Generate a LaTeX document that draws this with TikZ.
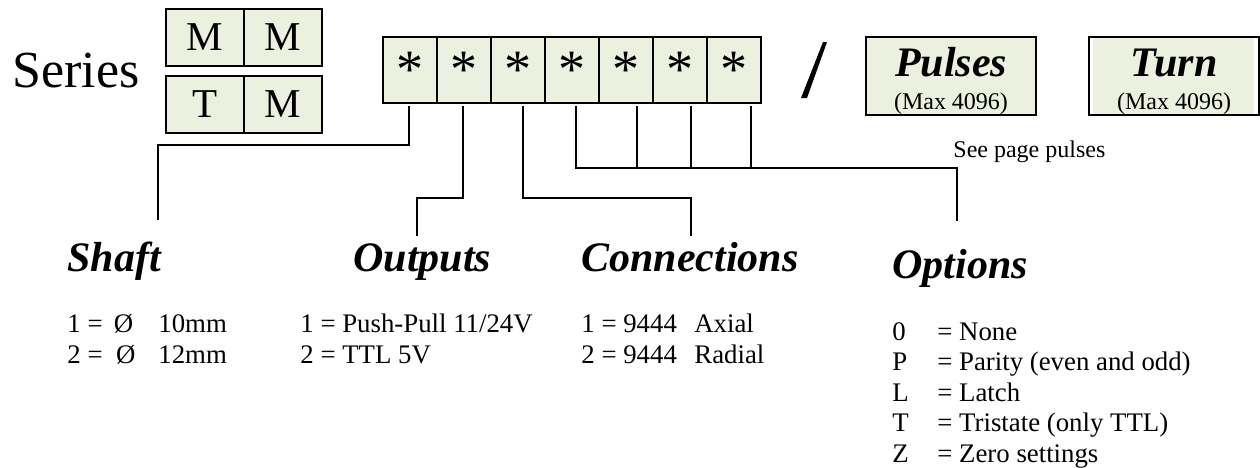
\documentclass[tikz,border=0pt]{standalone}
\usepackage{fontspec}
\setmainfont{Liberation Serif}
\usetikzlibrary{positioning}
\usetikzlibrary{calc}
\definecolor{celda}{RGB}{235,241,222}

\tikzset{
  cell/.style={draw, fill=celda, line width=0.9pt, outer sep=0pt, inner sep=0pt,
    minimum width=27pt, minimum height=33pt, font=\fontsize{27}{31}\selectfont},
  serie/.style={cell, minimum width=39pt, minimum height=28.5pt, font=\fontsize{20.5}{24}\selectfont},
  valbox/.style={draw, line width=0.9pt, outer sep=0pt, inner sep=0pt,
    minimum width=85pt, minimum height=39pt, align=center, font=\fontsize{12}{16.5}\selectfont},
  wire/.style={line width=0.6pt},
  titulo/.style={anchor=base west, inner sep=0pt, font=\fontsize{21}{25}\selectfont\bfseries\itshape},
  lista/.style={anchor=base west, inner sep=0pt, font=\fontsize{13.4}{15.5}\selectfont},
}

\begin{document}
\begin{tikzpicture}[x=0.5pt, y=-0.5pt]
    \useasboundingbox (0,0) rectangle (1260,467);

    % Serie
    \node[anchor=base west, inner sep=0pt, font=\fontsize{26}{30}\selectfont] (serie) at (12,87) {Series};
    \node[serie] (m1) at (205,37.5) {M};
    \node[serie, right=0pt of m1] (m2) {M};
    \node[serie] (t1) at (205,104.5) {T};
    \node[serie, right=0pt of t1] (m3) {M};

    % Celdas del codigo
    \node[cell] (s1) at (410,70) {*};
    \node[cell, right=0pt of s1] (s2) {*};
    \node[cell, right=0pt of s2] (s3) {*};
    \node[cell, right=0pt of s3] (s4) {*};
    \node[cell, right=0pt of s4] (s5) {*};
    \node[cell, right=0pt of s5] (s6) {*};
    \node[cell, right=0pt of s6] (s7) {*};

    % Barra
    \fill (801,98) -- (807,98) -- (827,42) -- (823,42) -- cycle;

    % Pulsos y vueltas
    \node[valbox, fill=celda] (pulsos) at (951,76)
        {\rule{0pt}{20pt}{\fontsize{21}{16.5}\selectfont\bfseries\itshape Pulses}\\(Max 4096)};
    \node[valbox, fill=white, path picture={
        \fill[celda] ([xshift=2pt]path picture bounding box.south west)
            rectangle ([xshift=-2.5pt]path picture bounding box.north east);}]
        (vuelta) at (1174,76)
        {\rule{0pt}{20pt}{\fontsize{21}{16.5}\selectfont\bfseries\itshape Turn}\\(Max 4096)};
    \node[anchor=base west, inner sep=0pt, font=\fontsize{12}{14}\selectfont] (ver) at (953,157) {See page pulses};

    % Titulos
    \node[titulo] (eje) at (67,271) {Shaft};
    \node[titulo] (salidas) at (353,271) {Outputs};
    \node[titulo] (conex) at (581,271) {Connections};
    \node[titulo] (opciones) at (892,278) {Options};

    % Extremos de las lineas
    \coordinate (dEje) at (158,220);
    \coordinate (dSal) at (417,236);
    \coordinate (dCon) at (691,236);
    \coordinate (dOpc) at (957,221);

    % Conectores
    \draw[wire] ($(s1.south)+(-1,3)$) -- ++(0,39) -| (dEje);
    \draw[wire] ($(s2.south)+(-1,3)$) -- ++(0,92) -| (dSal);
    \draw[wire] ($(s3.south)+(5,3)$) -- ++(0,92) -| (dCon);
    \draw[wire] ($(s4.south)+(4,3)$) -- ++(0,62) -| (dOpc);
    \draw[wire] ($(s5.south)+(11,3)$) -- ++(0,62);
    \draw[wire] ($(s6.south)+(11,3)$) -- ++(0,62);
    \draw[wire] ($(s7.south)+(17,3)$) -- ++(0,62);

    % Listas
    \node[lista] (lEje) at (67,332) {\begin{tabular}[t]{@{}p{45.5pt}@{}l@{}}
        1 = \,Ø & 10mm\\
        2 =\ \ Ø & 12mm
    \end{tabular}};
    \node[lista] (lSal) at (300,332) {\begin{tabular}[t]{@{}l@{}}
        1 = Push-Pull 11/24V\\
        2 = TTL 5V
    \end{tabular}};
    \node[lista] (lCon) at (581,332) {\begin{tabular}[t]{@{}p{56.5pt}@{}l@{}}
        1 = 9444 & Axial\\
        2 = 9444 & Radial
    \end{tabular}};
    \node[lista, font=\fontsize{13.4}{15.25}\selectfont] (lOpc) at (892,340) {\begin{tabular}[t]{@{}p{22.5pt}@{}l@{}}
        0 & = None\\
        P & = Parity (even and odd)\\
        L & = Latch\\
        T & = Tristate (only TTL)\\
        Z & = Zero settings
    \end{tabular}};

\end{tikzpicture}
\end{document}
